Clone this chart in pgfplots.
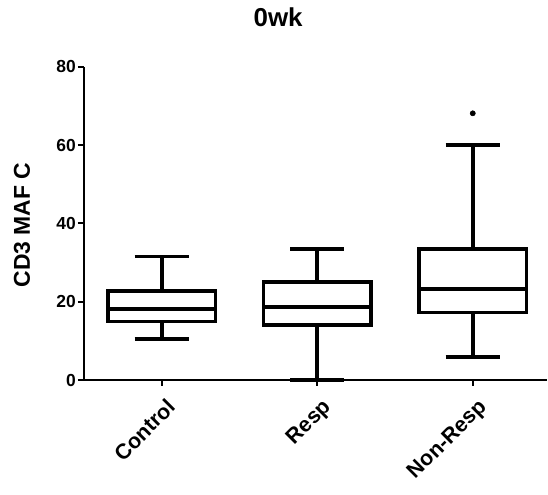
\documentclass[border=0pt]{standalone}
\usepackage{pgfplots}
\pgfplotsset{compat=1.18}
\usepgfplotslibrary{statistics}
\usepackage{fontspec}
\setmainfont{Liberation Sans}
\begin{document}
\begin{tikzpicture}
\useasboundingbox (0,0) rectangle (548bp,495bp);
\begin{axis}[
  at={(84bp,115bp)}, anchor=south west,
  scale only axis, width=463.4bp, height=313.3bp,
  xmin=-0.5, xmax=2.48, ymin=0, ymax=80,
  axis lines=left, axis line style={line width=2.6bp, -},
  ytick={0,20,40,60,80}, xtick={0,1,2},
  xticklabels={Control,Resp,Non-Resp},
  tick align=outside, major tick length=6bp,
  tick style={line width=1.8bp, black},
  /pgf/number format/assume math mode=true,
  yticklabel style={font=\fontsize{17.5}{19}\selectfont\bfseries, inner sep=2bp},
  xticklabel style={font=\fontsize{21.5}{23}\selectfont\bfseries, rotate=45, anchor=north east, inner sep=2bp, yshift=-9bp, xshift=-3bp},
  ylabel={CD3 MAF C},
  ylabel style={at={(axis description cs:-0.134,0.495)}, anchor=center, font=\fontsize{23}{25}\selectfont\bfseries},
  title={0wk},
  title style={at={(axis description cs:0.419,1.14)}, anchor=center, font=\fontsize{26}{28}\selectfont\bfseries},
  clip=false,
]
\addplot[boxplot/draw direction=y, boxplot/box extend=0.69, boxplot/whisker extend=0.35,
  black, line width=3.6bp, mark=*, mark size=2.6bp, mark options={fill=black, line width=0.5bp},
  boxplot prepared={draw position=0, lower whisker=10.4, lower quartile=14.9, median=18.1, upper quartile=22.8, upper whisker=31.5}]
  coordinates {};
\addplot[boxplot/draw direction=y, boxplot/box extend=0.69, boxplot/whisker extend=0.35,
  black, line width=3.6bp, mark=*, mark size=2.6bp, mark options={fill=black, line width=0.5bp},
  boxplot prepared={draw position=1, lower whisker=0, lower quartile=14.0, median=18.6, upper quartile=25.1, upper whisker=33.5}]
  coordinates {};
\addplot[boxplot/draw direction=y, boxplot/box extend=0.69, boxplot/whisker extend=0.35,
  black, line width=3.6bp, mark=*, mark size=2.6bp, mark options={fill=black, line width=0.5bp},
  boxplot prepared={draw position=2, lower whisker=5.8, lower quartile=17.2, median=23.2, upper quartile=33.4, upper whisker=60.0}]
  table[row sep=\\, y index=0] {68.1\\};
\end{axis}
\end{tikzpicture}
\end{document}
